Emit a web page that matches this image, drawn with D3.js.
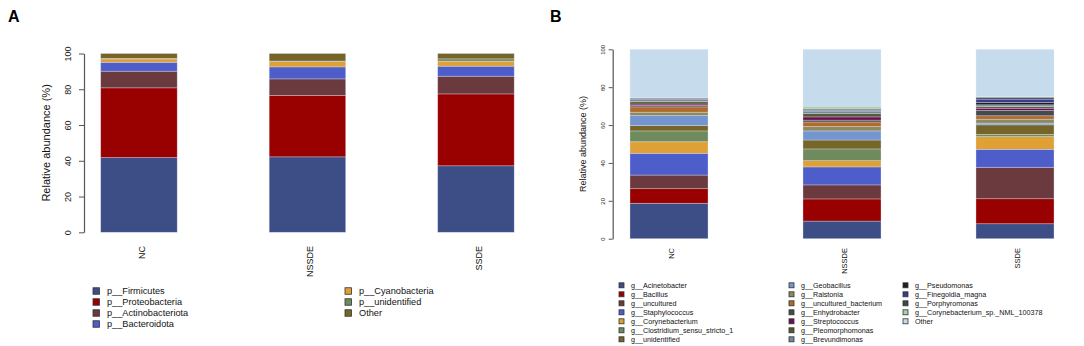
<!DOCTYPE html>
<html>
<head>
    <meta charset="utf-8">
    <style>
        body {
            margin: 0;
            background: #fff;
        }

        svg {
            font-family: 'Liberation Sans', Arial, Helvetica, sans-serif;
            display: block;
        }

        .axis .domain,
        .axis .tick line {
            stroke: #555;
        }

        .axis .tick text {
            fill: #222;
        }
    </style>
</head>

<body>
    <svg width="1084" height="346"></svg>

    <script src="https://d3js.org/d3.v7.min.js"></script>
    <script>
        // samples (x categories)
        const samples = ["NC", "NSSDE", "SSDE"];
        const yTicks = [0, 20, 40, 60, 80, 100];

        // panel A: phylum level, stacked bottom -> top in this order
        const phyla = ["p__Firmicutes", "p__Proteobacteria", "p__Actinobacteriota", "p__Bacteroidota",
            "p__Cyanobacteria", "p__unidentified", "Other"];
        const phylaColors = ["#3d4e86", "#990000", "#6b3a3e", "#4d5ecb", "#dfa035", "#6f8a5d", "#766528"];
        const phylaNC = [41.8, 39.0, 9.3, 5.0, 1.9, 0.3, 2.7];
        const phylaNSSDE = [42.2, 34.4, 9.2, 6.7, 3.0, 0.3, 4.2];
        const phylaSSDE = [37.2, 40.2, 9.9, 5.6, 2.8, 1.3, 3.0];

        // panel B: genus level
        const genera = ["g__Acinetobacter", "g__Bacillus", "g__uncultured", "g__Staphylococcus",
            "g__Corynebacterium", "g__Clostridium_sensu_stricto_1", "g__unidentified",
            "g__Geobacillus", "g__Ralstonia", "g__uncultured_bacterium", "g__Enhydrobacter",
            "g__Streptococcus", "g__Pleomorphomonas", "g__Brevundimonas",
            "g__Pseudomonas", "g__Finegoldia_magna", "g__Porphyromonas",
            "g__Corynebacterium_sp._NML_100378", "Other"];
        const generaColors = ["#3d4e86", "#990000", "#6b3a3e", "#4d5ecb", "#dfa035", "#6f8a5d", "#766528",
            "#7396d0", "#8c8a62", "#b06a2a", "#454b4a", "#6a0f50", "#57582f", "#6e8a98",
            "#1f1f1f", "#3d3c8c", "#394a4c", "#a9d2a8", "#c6dcec"];
        const generaNC = [18.7, 7.7, 7.2, 11.5, 6.1, 5.7, 2.8, 5.3, 1.8, 2.8, 0.7, 0.8, 1.2, 0.5, 0.5, 0.3, 0.6, 0.3, 25.5];
        const generaNSSDE = [9.3, 11.7, 7.4, 9.5, 3.3, 6.2, 4.7, 4.8, 2.3, 2.4, 1.0, 1.7, 1.7, 1.3, 0.4, 0.3, 0.5, 1.5, 30.0];
        const generaSSDE = [7.9, 13.2, 16.6, 9.5, 6.7, 1.2, 5.0, 0.9, 2.1, 1.8, 2.8, 1.2, 0.9, 0.9, 1.2, 1.8, 1.0, 0.3, 25.0];

        const svg = d3.select("svg");

        function drawPanel(p) {
            const g = svg.append("g");

            // build rows for d3.stack
            const rows = samples.map((s, i) => {
                const row = { sample: s };
                p.keys.forEach((k, j) => row[k] = p.values[i][j]);
                return row;
            });
            const series = d3.stack().keys(p.keys)(rows);

            const x = d3.scaleBand()
                .domain(samples)
                .range(p.xRange)
                .paddingInner(p.padIn)
                .paddingOuter(p.padIn / 2);

            const y = d3.scaleLinear()
                .domain([0, 100])
                .range(p.yRange);

            const color = d3.scaleOrdinal().domain(p.keys).range(p.colors);

            g.append("g")
                .selectAll("g")
                .data(series)
                .join("g")
                .attr("fill", d => color(d.key))
                .selectAll("rect")
                .data(d => d)
                .join("rect")
                .attr("x", d => x(d.data.sample))
                .attr("width", x.bandwidth())
                .attr("y", d => y(d[1]))
                .attr("height", d => y(d[0]) - y(d[1]))
                .attr("stroke", "rgba(235,235,255,0.45)")
                .attr("stroke-width", 0.7);

            // y axis, R style: labels parallel to the axis
            const yAxis = g.append("g")
                .attr("class", "axis")
                .attr("transform", `translate(${p.axisX},0)`)
                .call(d3.axisLeft(y).tickValues(yTicks).tickSize(p.tickLen).tickSizeOuter(0));
            yAxis.select(".domain").attr("stroke-width", 1.2);
            yAxis.selectAll(".tick text")
                .attr("x", 0)
                .attr("dy", null)
                .attr("y", -p.tickLabelOff)
                .attr("transform", "rotate(-90)")
                .attr("text-anchor", "middle")
                .style("font-size", p.tickFont + "px");
            yAxis.selectAll(".tick line").attr("stroke-width", 1);

            g.append("text")
                .attr("transform", `translate(${p.yLabelX},${(p.yRange[0] + p.yRange[1]) / 2}) rotate(-90)`)
                .attr("text-anchor", "middle")
                .style("font-size", p.yLabelFont + "px")
                .attr("fill", "#111")
                .text("Relative abundance (%)");

            // sample labels, rotated
            g.selectAll(".xlab")
                .data(samples)
                .join("text")
                .attr("class", "xlab")
                .attr("transform", d => `translate(${x(d) + x.bandwidth() / 2 + p.xLabDx},${p.xLabY}) rotate(-90)`)
                .attr("text-anchor", "end")
                .style("font-size", p.xLabFont + "px")
                .attr("fill", "#111")
                .text(d => d);

            // panel letter
            g.append("text")
                .attr("x", p.letterX)
                .attr("y", 22)
                .style("font-size", "16px")
                .style("font-weight", "bold")
                .text(p.letter);

            // legend
            const leg = g.append("g");
            p.keys.forEach((k, j) => {
                const col = Math.floor(j / p.legRows);
                const row = j % p.legRows;
                const lx = p.legCols[col];
                const ly = p.legY + row * p.legStep;
                leg.append("rect")
                    .attr("x", lx)
                    .attr("y", ly - p.legBox / 2)
                    .attr("width", p.legBox)
                    .attr("height", p.legBox)
                    .attr("fill", color(k))
                    .attr("stroke", "#333")
                    .attr("stroke-width", 0.8);
                leg.append("text")
                    .attr("x", lx + p.legTextDx)
                    .attr("y", ly)
                    .attr("dy", "0.35em")
                    .style("font-size", p.legFont + "px")
                    .attr("fill", "#111")
                    .text(k);
            });
        }

        drawPanel({
            letter: "A", letterX: 8,
            keys: phyla, colors: phylaColors,
            values: [phylaNC, phylaNSSDE, phylaSSDE],
            xRange: [54.7, 560.2], padIn: 0.546,
            yRange: [232.3, 53.5],
            axisX: 84, tickLen: 5, tickLabelOff: 13, tickFont: 9,
            yLabelX: 50, yLabelFont: 11,
            xLabDx: 6, xLabY: 246, xLabFont: 9,
            legRows: 4, legCols: [93, 345], legY: 291, legStep: 11, legBox: 6.5, legTextDx: 14, legFont: 9.2
        });

        drawPanel({
            letter: "B", letterX: 550,
            keys: genera, colors: generaColors,
            values: [generaNC, generaNSSDE, generaSSDE],
            xRange: [582.5, 1101.5], padIn: 0.549,
            yRange: [238.7, 49.3],
            axisX: 612.7, tickLen: 4, tickLabelOff: 7.5, tickFont: 6,
            yLabelX: 586, yLabelFont: 9,
            xLabDx: 4.5, xLabY: 248, xLabFont: 7.5,
            legRows: 7, legCols: [619, 789, 903], legY: 285.3, legStep: 9, legBox: 5, legTextDx: 12, legFont: 7.2
        });
    </script>
</body>
</html>
